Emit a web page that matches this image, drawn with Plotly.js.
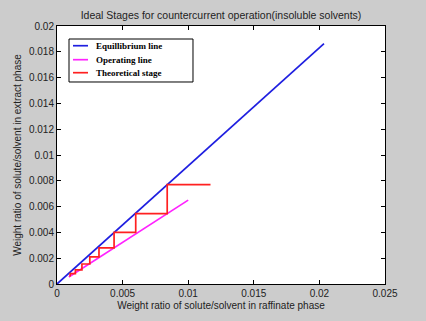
<!DOCTYPE html>
<html><head><meta charset="utf-8">
<script src="https://cdn.plot.ly/plotly-3.0.1.min.js"></script>
<style>html,body{margin:0;padding:0;background:#cccccc;}#plot{width:426px;height:321px;}</style>
</head><body><div id="plot"></div>
<script>
var eqX = [0, 0.02035];
var eqY = [0, 0.01863];
var opX = [0.0009, 0.0100];
var opY = [0.00055, 0.0065];
var stageX = [0.0117, 0.0084, 0.0084, 0.0060, 0.0060, 0.00435, 0.00435, 0.0032, 0.0032, 0.0025, 0.0025, 0.0019, 0.0019, 0.0014, 0.0014, 0.0010, 0.0010];
var stageY = [0.0077, 0.0077, 0.00545, 0.00545, 0.0040, 0.0040, 0.0028, 0.0028, 0.0021, 0.0021, 0.00155, 0.00155, 0.0011, 0.0011, 0.0008, 0.0008, 0.00058];
var xTicks = [0, 0.005, 0.01, 0.015, 0.02, 0.025];
var xTickText = ['0', '0.005', '0.01', '0.015', '0.02', '0.025'];
var yTicks = [0, 0.002, 0.004, 0.006, 0.008, 0.01, 0.012, 0.014, 0.016, 0.018, 0.02];
var yTickText = ['0', '0.002', '0.004', '0.006', '0.008', '0.01', '0.012', '0.014', '0.016', '0.018', '0.02'];
var seriesNames = ['Equillibrium line', 'Operating line', 'Theoretical stage'];
var seriesColors = ['#1f1fe0', '#ff22ff', '#ff2020'];

var traces = [
  {x: eqX, y: eqY, mode: 'lines', name: seriesNames[0], line: {color: seriesColors[0], width: 1.7}},
  {x: opX, y: opY, mode: 'lines', name: seriesNames[1], line: {color: seriesColors[1], width: 1.7}},
  {x: stageX, y: stageY, mode: 'lines', name: seriesNames[2], line: {color: seriesColors[2], width: 1.7}}
];

// manual compact legend (MATLAB style)
var legX0 = 0.0366, legX1 = 0.4146, legY0 = 0.783, legY1 = 0.9496;
var itemY = [0.9236, 0.8694, 0.819];
var shapes = [{type: 'rect', xref: 'paper', yref: 'paper', x0: legX0, x1: legX1, y0: legY0, y1: legY1,
  line: {color: '#000', width: 1}, fillcolor: '#ffffff', layer: 'above'}];
var annotations = [];
for (var i = 0; i < seriesNames.length; i++) {
  shapes.push({type: 'line', xref: 'paper', yref: 'paper', x0: 0.0488, x1: 0.0945, y0: itemY[i], y1: itemY[i],
    line: {color: seriesColors[i], width: 1.7}, layer: 'above'});
  annotations.push({xref: 'paper', yref: 'paper', x: 0.1128, y: itemY[i], xanchor: 'left', yanchor: 'middle',
    text: '<b>' + seriesNames[i] + '</b>', showarrow: false,
    font: {family: 'Liberation Serif, Times New Roman, serif', size: 9, color: '#000'}});
}

var axisCommon = {
  showgrid: false, zeroline: false, showline: true, mirror: 'ticks', linecolor: '#000', linewidth: 1,
  ticks: 'inside', ticklen: 4, tickcolor: '#000',
  tickfont: {family: 'Liberation Sans, Arial, sans-serif', size: 10, color: '#222'}
};
var layout = {
  width: 426, height: 321,
  paper_bgcolor: '#cccccc', plot_bgcolor: '#ffffff',
  margin: {l: 57, r: 41, t: 26, b: 37},
  title: {text: 'Ideal Stages for countercurrent operation(insoluble solvents)', xref: 'paper', x: 0.5, xanchor: 'center', y: 0.963, yanchor: 'top',
          font: {family: 'Liberation Sans, Arial, sans-serif', size: 10.5, color: '#222'}},
  xaxis: Object.assign({}, axisCommon, {range: [0, 0.025], tickvals: xTicks, ticktext: xTickText,
    title: {text: 'Weight ratio of solute/solvent in raffinate phase', standoff: 3, font: {family: 'Liberation Sans, Arial, sans-serif', size: 10, color: '#222'}}}),
  yaxis: Object.assign({}, axisCommon, {range: [0, 0.02], tickvals: yTicks, ticktext: yTickText,
    title: {text: 'Weight ratio of solute/solvent in extract phase', standoff: 5, font: {family: 'Liberation Sans, Arial, sans-serif', size: 10, color: '#222'}}}),
  showlegend: false,
  shapes: shapes,
  annotations: annotations
};
Plotly.newPlot('plot', traces, layout, {displayModeBar: false, staticPlot: true});
</script>
</body></html>
